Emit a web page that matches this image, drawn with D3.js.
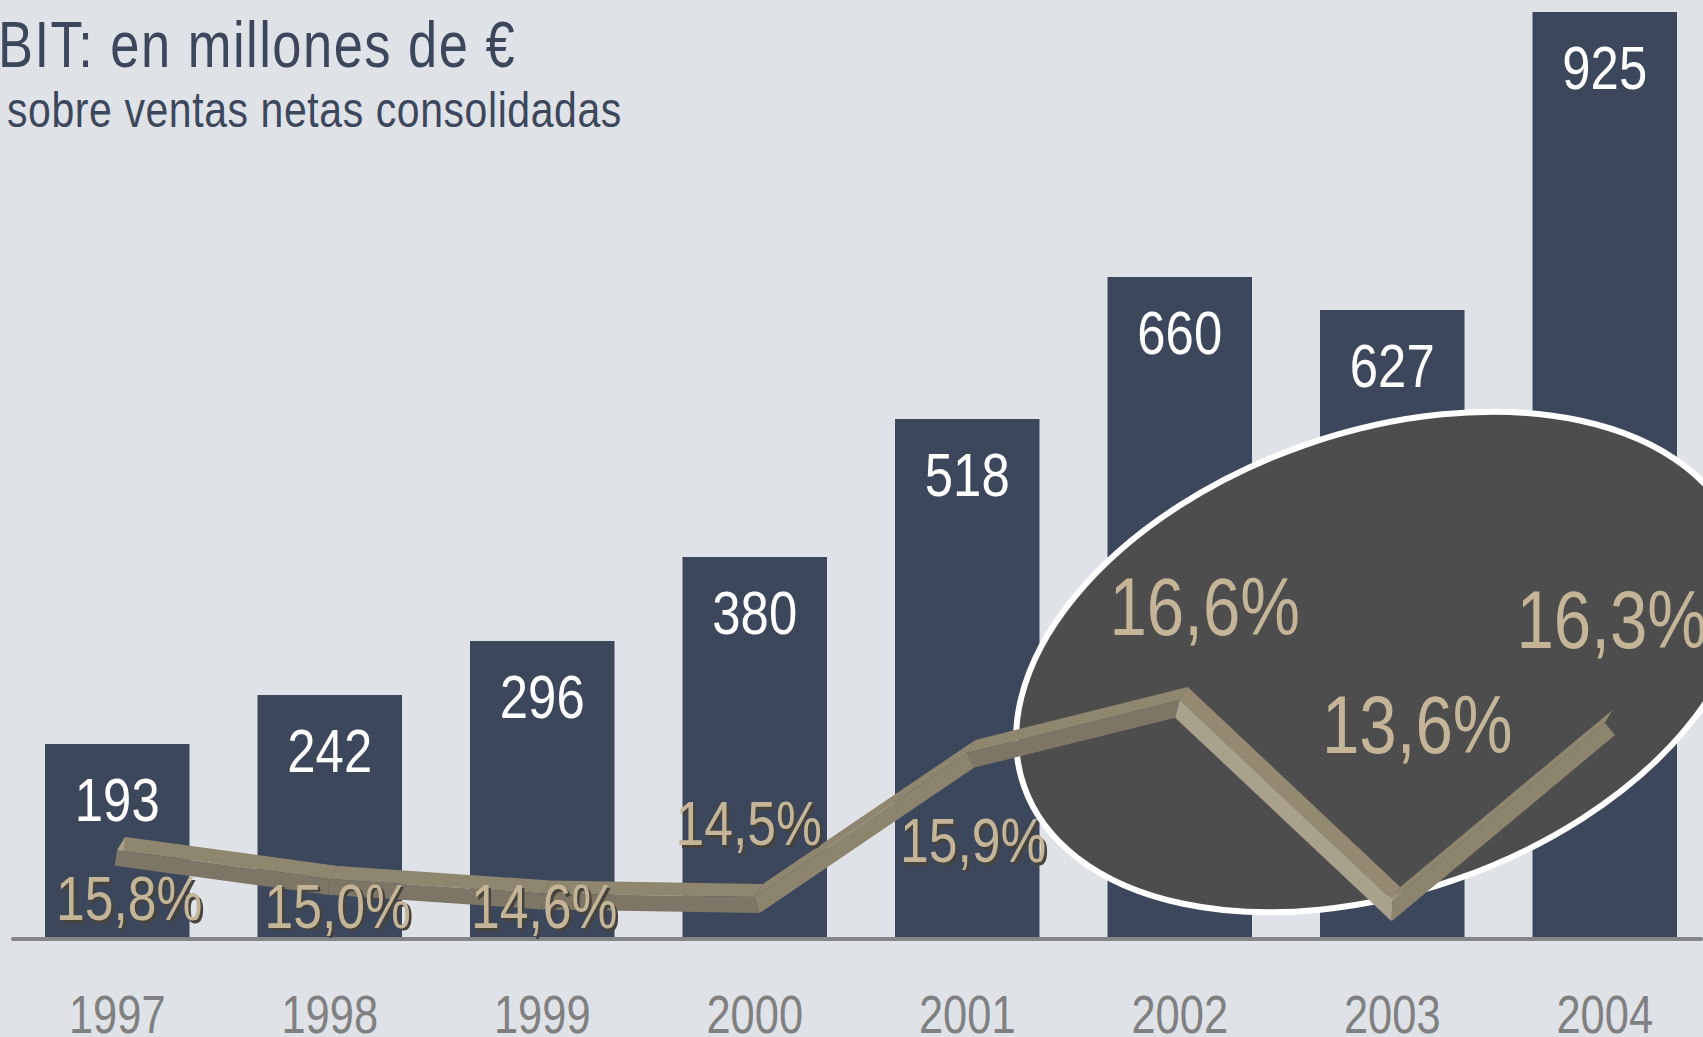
<!DOCTYPE html>
<html>
<head>
<meta charset="utf-8">
<script src="https://cdn.jsdelivr.net/npm/d3@7"></script>
<style>
  html, body { margin: 0; padding: 0; background: #dfe2e7; overflow: hidden; }
  svg { display: block; }
  text { font-family: "Liberation Sans", Arial, sans-serif; }
</style>
</head>
<body>
<div id="chart"></div>
<script>
// data
var years = ["1997", "1998", "1999", "2000", "2001", "2002", "2003", "2004"];
var ebit = [193, 242, 296, 380, 518, 660, 627, 925];
var margin = [15.8, 15.0, 14.6, 14.5, 15.9, 16.6, 13.6, 16.3];
var ovalYears = ["2002", "2003", "2004"];   // years inside the highlight oval

// the margin line in the original is not drawn on an even scale,
// so the percent scale is piecewise
var marginStops = [13.6, 14.5, 15.8, 15.9, 16.6];

var width = 1703, height = 1037;
var baseY = 937;
var NARROW = 0.82;  // squeeze Liberation Sans into a condensed face

var svg = d3.select("#chart").append("svg")
  .attr("width", width)
  .attr("height", height);

svg.append("rect")
  .attr("width", width)
  .attr("height", height)
  .attr("fill", "#dfe2e7");

var x = d3.scaleBand().domain(years).range([45, 1677]).paddingInner(0.32);
var y = d3.scaleLinear().domain([0, 925]).range([baseY, 12]);
var yPct = d3.scaleLinear().domain(marginStops).range([900, 897, 850, 753, 700]);

var es = d3.formatLocale({decimal: ",", thousands: ".", grouping: [3], currency: ["", " €"]});
var pctFmt = es.format(".1f");

function cx(yr) { return x(yr) + x.bandwidth() / 2; }
function at(px, py) { return "translate(" + px + "," + py + ") scale(" + NARROW + ",1)"; }

// titles
svg.append("text")
  .attr("transform", at(-2, 67))
  .attr("fill", "#3c475c")
  .style("font-size", "64px")
  .style("letter-spacing", "1.8px")
  .text("BIT: en millones de €");

svg.append("text")
  .attr("transform", at(7, 127))
  .attr("fill", "#3c475c")
  .style("font-size", "50px")
  .style("letter-spacing", "0.7px")
  .text("sobre ventas netas consolidadas");

// bars
svg.append("g").selectAll("rect")
  .data(ebit)
  .join("rect")
  .attr("x", function(d, i) { return x(years[i]); })
  .attr("y", function(d) { return y(d); })
  .attr("width", x.bandwidth())
  .attr("height", function(d) { return baseY - y(d); })
  .attr("fill", "#3c475c");

// value labels
svg.append("g").selectAll("text")
  .data(ebit)
  .join("text")
  .attr("transform", function(d, i) { return at(cx(years[i]), y(d) + 77); })
  .attr("text-anchor", "middle")
  .attr("fill", "#ffffff")
  .style("font-size", "62px")
  .text(function(d) { return d; });

// axis line + years
svg.append("rect")
  .attr("x", 11)
  .attr("y", baseY)
  .attr("width", width - 11)
  .attr("height", 4)
  .attr("rx", 2)
  .attr("fill", "#858585");

var xAxis = svg.append("g")
  .attr("transform", "translate(0," + baseY + ")")
  .call(d3.axisBottom(x).tickSize(0));
xAxis.select(".domain").remove();
xAxis.selectAll("text")
  .attr("y", 0)
  .attr("dy", 0)
  .attr("transform", at(0, 96))
  .attr("fill", "#808080")
  .style("font-size", "53px")
  .style("font-family", "'Liberation Sans', Arial, sans-serif");

// highlight oval
svg.append("ellipse")
  .attr("transform", "translate(1381,662) rotate(-19.2)")
  .attr("rx", 378)
  .attr("ry", 230)
  .attr("fill", "#4d4d4d")
  .attr("stroke", "#ffffff")
  .attr("stroke-width", 6);

// 3D ribbon for the margin line
var pts = years.map(function(yr, i) { return [cx(yr), yPct(margin[i])]; });
var thick = 16, off = [8, -13];

function unit(v) { var l = Math.hypot(v[0], v[1]); return [v[0] / l, v[1] / l]; }
function add(a, b) { return [a[0] + b[0], a[1] + b[1]]; }

var segs = d3.pairs(pts);
var normals = segs.map(function(s) {
  var d = unit([s[1][0] - s[0][0], s[1][1] - s[0][1]]);
  return [-d[1], d[0]];
});
var miters = pts.map(function(p, i) {
  if (i === 0) return [normals[0][0] * thick, normals[0][1] * thick];
  if (i === pts.length - 1) return [normals[i - 1][0] * thick, normals[i - 1][1] * thick];
  var a = normals[i - 1], b = normals[i];
  var m = unit([a[0] + b[0], a[1] + b[1]]);
  var len = thick / (m[0] * a[0] + m[1] * a[1]);
  return [m[0] * len, m[1] * len];
});

var poly = function(p) { return d3.line()(p) + "Z"; };
var ribbon = svg.append("g");

// top faces
ribbon.selectAll("path.top")
  .data(segs)
  .join("path")
  .attr("class", "top")
  .attr("d", function(s) { return poly([s[0], s[1], add(s[1], off), add(s[0], off)]); })
  .attr("fill", function(s) { return (s[1][1] - s[0][1]) / (s[1][0] - s[0][0]) > 0.4 ? "#948a72" : "#8f8670"; });

// left end cap
ribbon.append("path")
  .attr("d", poly([pts[0], add(pts[0], off), add(add(pts[0], off), miters[0]), add(pts[0], miters[0])]))
  .attr("fill", "#a9a08b");

// front faces
ribbon.selectAll("path.front")
  .data(segs)
  .join("path")
  .attr("class", "front")
  .attr("d", function(s, i) {
    return poly([s[0], s[1], add(s[1], miters[i + 1]), add(s[0], miters[i])]);
  })
  .attr("fill", function(s) {
    var slope = (s[1][1] - s[0][1]) / (s[1][0] - s[0][0]);
    if (Math.abs(slope) < 0.4) return "#7d7667";
    return slope < 0 ? "#8d846e" : "#aaa18c";
  });

// percent labels: offsets from the bar centre and from the line point
var labelOffsets = [[12, 70], [8, 49], [2, 35], [-6, -52], [6, 109], [25, -65], [25, -147], [7, -75]];

var pctG = svg.append("g");
margin.forEach(function(v, i) {
  var inside = ovalYears.indexOf(years[i]) >= 0;
  var px = cx(years[i]) + labelOffsets[i][0];
  var py = yPct(v) + labelOffsets[i][1];
  var size = inside ? "82px" : "63px";
  if (!inside) {
    pctG.append("text")
      .attr("transform", at(px + 2.5, py + 2.5))
      .attr("text-anchor", "middle")
      .attr("fill", "#46433c")
      .style("font-size", size)
      .text(pctFmt(v) + "%");
  }
  pctG.append("text")
    .attr("transform", at(px, py))
    .attr("text-anchor", "middle")
    .attr("fill", "#c4b598")
    .style("font-size", size)
    .text(pctFmt(v) + "%");
});
</script>
</body>
</html>
